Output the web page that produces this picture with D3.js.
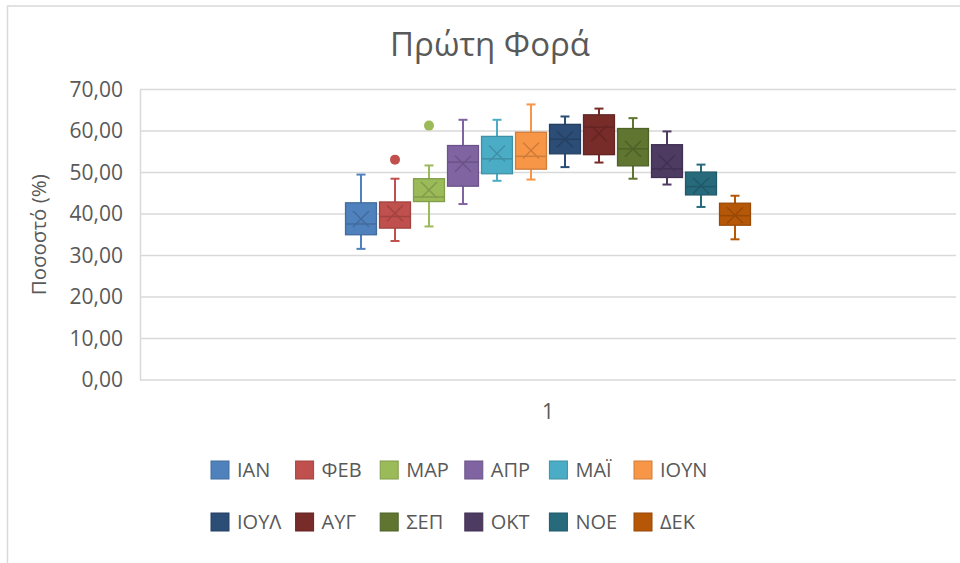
<!DOCTYPE html>
<html>
<head>
<meta charset="utf-8">
<script src="https://cdn.jsdelivr.net/npm/d3@7"></script>
<style>
  body { margin: 0; background: #fff; }
  text { font-family: "Open Sans", "Noto Sans", sans-serif; fill: #595959; }
</style>
</head>
<body>
<div class="chart"></div>
<script>
let months = ["ΙΑΝ", "ΦΕΒ", "ΜΑΡ", "ΑΠΡ", "ΜΑΪ", "ΙΟΥΝ", "ΙΟΥΛ", "ΑΥΓ", "ΣΕΠ", "ΟΚΤ", "ΝΟΕ", "ΔΕΚ"];
let colors = ["#4F81BD", "#C0504D", "#9BBB59", "#8064A2", "#4BACC6", "#F79646",
              "#2C4D75", "#772C2A", "#5F7530", "#4D3B62", "#276A7C", "#B65708"];
let whiskerLow  = [31.6, 33.5, 37.0, 42.4, 48.0, 48.3, 51.3, 52.4, 48.5, 47.1, 41.7, 33.9];
let q1          = [35.0, 36.6, 43.0, 46.7, 49.7, 50.8, 54.5, 54.3, 51.6, 48.8, 44.6, 37.3];
let medians     = [37.6, 39.4, 44.1, 52.5, 53.3, 53.9, 58.0, 60.9, 55.7, 50.9, 46.6, 39.6];
let q3          = [42.7, 42.9, 48.5, 56.5, 58.7, 59.7, 61.6, 63.9, 60.6, 56.7, 50.1, 42.6];
let whiskerHigh = [49.5, 48.5, 51.7, 62.7, 62.7, 66.4, 63.5, 65.4, 63.1, 59.9, 51.9, 44.4];
let means       = [38.8, 40.2, 45.8, 52.1, 54.6, 55.3, 58.0, 59.4, 55.7, 52.3, 46.8, 39.7];
let outliers    = [[], [53.1], [61.3], [], [], [], [], [], [], [], [], []];
let categories = ["1"];
let yTicks = [0, 10, 20, 30, 40, 50, 60, 70];

let svgWidth = 960;
let svgHeight = 563;

let margin = { top: 89.5, right: 4, bottom: 183, left: 140 };
let width = svgWidth - margin.left - margin.right;
let height = svgHeight - margin.top - margin.bottom;

let data = months.map((m, i) => ({
  month: m, color: colors[i], lo: whiskerLow[i], q1: q1[i], med: medians[i],
  q3: q3[i], hi: whiskerHigh[i], mean: means[i], out: outliers[i]
}));

let svg = d3.select(".chart")
    .append("svg")
    .attr("width", svgWidth)
    .attr("height", svgHeight);

// chart border
svg.append("rect")
    .attr("x", 7.5).attr("y", 6)
    .attr("width", 1000).attr("height", 600)
    .attr("fill", "none")
    .attr("stroke", "#d9d9d9")
    .attr("stroke-width", 1.5);

svg.append("text")
    .attr("x", 490).attr("y", 56)
    .attr("text-anchor", "middle")
    .style("font-size", "33px")
    .text("Πρώτη Φορά");

let chartGroup = svg.append("g")
    .attr("transform", `translate(${margin.left}, ${margin.top})`);

let yScale = d3.scaleLinear().domain([0, 70]).range([height, 0]);
let xOuter = d3.scaleBand().domain(categories).range([0, width]);

let bw = xOuter.bandwidth();
let cx = xOuter("1") + bw / 2;
let xInner = d3.scaleBand().domain(months)
    .range([cx - bw / 4, cx + bw / 4])
    .paddingInner(0.09).paddingOuter(0.045);

// gridlines
chartGroup.append("g")
    .selectAll("line")
    .data(yTicks)
    .enter()
    .append("line")
    .attr("x1", 0).attr("x2", width)
    .attr("y1", d => yScale(d)).attr("y2", d => yScale(d))
    .attr("stroke", "#d9d9d9")
    .attr("stroke-width", 1.5);

let leftAxis = d3.axisLeft(yScale)
    .tickValues(yTicks)
    .tickSize(0)
    .tickPadding(17)
    .tickFormat(d => d3.format(".2f")(d).replace(".", ","));

let yAxis = chartGroup.append("g").call(leftAxis);
yAxis.select(".domain").attr("stroke", "#d9d9d9").attr("stroke-width", 1.5);
yAxis.selectAll("text").style("font-size", "21px").attr("fill", "#595959");

let bottomAxis = d3.axisBottom(xOuter).tickSize(0).tickPadding(24);
let xAxis = chartGroup.append("g")
    .attr("transform", `translate(0, ${height})`)
    .call(bottomAxis);
xAxis.select(".domain").remove();
xAxis.selectAll("text").style("font-size", "21px").attr("fill", "#595959");

chartGroup.append("text")
    .attr("transform", "rotate(-90)")
    .attr("x", 0 - height / 2)
    .attr("y", 39 - margin.left)
    .attr("dy", "0.35em")
    .attr("text-anchor", "middle")
    .style("font-size", "20.5px")
    .text("Ποσοστό (%)");

// boxes
let boxW = xInner.bandwidth();
let boxes = chartGroup.selectAll(".box")
    .data(data)
    .enter()
    .append("g")
    .attr("transform", d => `translate(${xInner(d.month) + boxW / 2}, 0)`);

let dark = c => d3.color(c).darker(0.5).formatHex();

boxes.append("line")
    .attr("x1", 0).attr("x2", 0)
    .attr("y1", d => yScale(d.hi)).attr("y2", d => yScale(d.lo))
    .attr("stroke", d => d.color).attr("stroke-width", 2);

boxes.selectAll(".cap")
    .data(d => [d.lo, d.hi].map(v => ({ v: v, color: d.color })))
    .enter()
    .append("line")
    .attr("x1", -4.5).attr("x2", 4.5)
    .attr("y1", d => yScale(d.v)).attr("y2", d => yScale(d.v))
    .attr("stroke", d => d.color).attr("stroke-width", 2);

boxes.append("rect")
    .attr("x", -boxW / 2)
    .attr("width", boxW)
    .attr("y", d => yScale(d.q3))
    .attr("height", d => yScale(d.q1) - yScale(d.q3))
    .attr("fill", d => d.color)
    .attr("stroke", d => dark(d.color))
    .attr("stroke-width", 1.3);

boxes.append("line")
    .attr("x1", -boxW / 2).attr("x2", boxW / 2)
    .attr("y1", d => yScale(d.med)).attr("y2", d => yScale(d.med))
    .attr("stroke", d => dark(d.color)).attr("stroke-width", 1.5);

// mean markers
boxes.append("path")
    .attr("d", d => {
      let y = yScale(d.mean), s = 8;
      return `M${-s},${y - s}L${s},${y + s}M${-s},${y + s}L${s},${y - s}`;
    })
    .attr("stroke", d => dark(d.color))
    .attr("stroke-width", 1.5)
    .attr("fill", "none");

boxes.selectAll(".outlier")
    .data(d => d.out.map(v => ({ v: v, color: d.color })))
    .enter()
    .append("circle")
    .attr("cx", 0)
    .attr("cy", d => yScale(d.v))
    .attr("r", 5)
    .attr("fill", d => d.color);

// legend
let legend = svg.append("g");
let perRow = 6;
let colStep = 84.6;
let items = legend.selectAll("g")
    .data(data)
    .enter()
    .append("g")
    .attr("transform", (d, i) => `translate(${211 + (i % perRow) * colStep}, ${461 + Math.floor(i / perRow) * 52})`);

items.append("rect")
    .attr("width", 18).attr("height", 18)
    .attr("fill", d => d.color)
    .attr("stroke", d => dark(d.color))
    .attr("stroke-width", 1);

items.append("text")
    .attr("x", 26).attr("y", 9)
    .attr("dy", "0.35em")
    .style("font-size", "20px")
    .text(d => d.month);
</script>
</body>
</html>
